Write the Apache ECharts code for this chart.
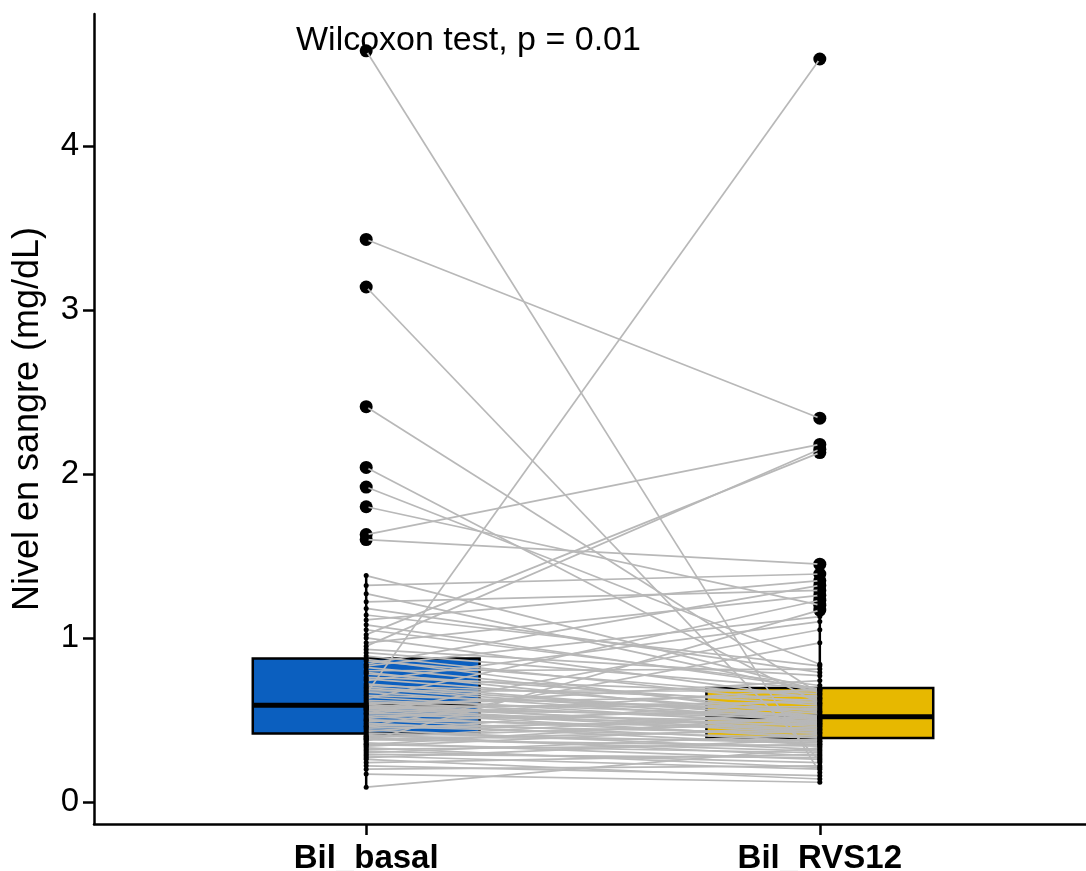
<!DOCTYPE html>
<html>
<head>
<meta charset="utf-8">
<script src="https://cdn.jsdelivr.net/npm/echarts@6/dist/echarts.min.js"></script>
<style>
  html, body { margin: 0; padding: 0; background: #ffffff; }
  #chart { width: 1086px; height: 871px; }
</style>
</head>
<body>
<div id="chart"></div>
<script>
// Paired bilirubin measurements: baseline vs. RVS week 12 (one entry per patient)
const categories = ['Bil_basal', 'Bil_RVS12'];
const yTicks = [0, 1, 2, 3, 4];
const testLabel = 'Wilcoxon test, p = 0.01';

const bilBasal = [
  4.58, 3.43, 3.14, 2.41, 2.04, 1.92, 1.80, 1.63, 1.60, 0.66, 0.95, 1.02,
  0.09, 0.17, 0.20, 0.22, 0.24, 0.26, 0.27, 0.28, 0.29, 0.30, 0.31, 0.32, 0.33,
  0.34, 0.35, 0.35, 0.36, 0.37, 0.38, 0.38, 0.39, 0.39, 0.40, 0.40, 0.41,
  0.42, 0.43, 0.44, 0.45, 0.46, 0.46, 0.47, 0.48, 0.49, 0.50, 0.50, 0.51, 0.52,
  0.53, 0.54, 0.54, 0.55, 0.56, 0.56, 0.57, 0.57, 0.58, 0.58, 0.58, 0.585,
  0.595, 0.60, 0.61, 0.62, 0.63, 0.64, 0.65, 0.67, 0.68, 0.69, 0.70, 0.71,
  0.72, 0.74, 0.75, 0.76, 0.78, 0.79, 0.80, 0.82, 0.83, 0.84, 0.86, 0.87,
  0.89, 0.91, 0.93, 0.97, 1.00, 1.05, 1.08, 1.11, 1.14, 1.18, 1.22, 1.27, 1.32, 1.38
];

const bilRVS12 = [
  0.18, 2.34, 0.25, 0.66, 0.60, 0.84, 1.20, 2.18, 1.45, 4.53, 2.15, 2.13,
  0.33, 0.12, 0.22, 0.16, 0.29, 0.14, 0.38, 0.20, 0.27, 0.41, 0.24, 0.35, 0.21,
  0.46, 0.30, 0.52, 0.26, 1.17, 0.34, 0.44, 0.31, 0.55, 0.37, 0.48, 0.28,
  0.36, 0.63, 0.32, 0.50, 0.39, 0.97, 0.42, 0.35, 0.57, 0.37, 0.45, 0.69, 0.40,
  0.47, 1.05, 0.49, 0.39, 0.53, 0.42, 0.61, 0.43, 0.51, 0.74, 0.46, 0.58,
  0.44, 0.65, 0.48, 0.52, 1.23, 0.47, 0.56, 0.49, 0.68, 0.50, 0.52, 0.62,
  0.51, 1.10, 0.54, 0.66, 0.59, 0.51, 0.81, 0.55, 1.13, 1.32, 0.64, 0.52,
  0.60, 0.69, 0.77, 1.26, 0.63, 0.71, 0.69, 1.35, 0.83, 0.79, 1.29, 0.67, 1.39, 0.68
];

const groupColors = ['#0B5FBF', '#E7B800'];
const FONT = '"Liberation Sans", Arial, Helvetica, sans-serif';

// Tukey box statistics (R quantile type 7, whiskers to the most extreme point within 1.5 IQR)
function quantile7(sorted, p) {
  const h = (sorted.length - 1) * p;
  const lo = Math.floor(h), hi = Math.ceil(h);
  return sorted[lo] + (h - lo) * (sorted[hi] - sorted[lo]);
}
function boxStats(values) {
  const s = values.slice().sort((a, b) => a - b);
  const q1 = quantile7(s, 0.25), med = quantile7(s, 0.5), q3 = quantile7(s, 0.75);
  const iqr = q3 - q1, lo = q1 - 1.5 * iqr, hi = q3 + 1.5 * iqr;
  const inside = s.filter(v => v >= lo && v <= hi);
  return {
    q1, med, q3,
    wLow: inside[0], wHigh: inside[inside.length - 1],
    outliers: s.filter(v => v < lo || v > hi)
  };
}

const groups = [bilBasal, bilRVS12];
const stats = groups.map(boxStats);

const boxData = stats.map((st, i) => [i + 1, st.wLow, st.q1, st.med, st.q3, st.wHigh, i]);
const outlierData = [];
stats.forEach((st, i) => st.outliers.forEach(v => outlierData.push([i + 1, v])));
const pointData = [];
groups.forEach((g, i) => g.forEach(v => pointData.push([i + 1, v])));
const pairLines = bilBasal.map((b, i) => ({ coords: [[1, b], [2, bilRVS12[i]]] }));

// y range padded by 5% of the data span on each side
const allVals = bilBasal.concat(bilRVS12);
const dMin = Math.min.apply(null, allVals), dMax = Math.max.apply(null, allVals);
const pad = (dMax - dMin) * 0.05;

const chart = echarts.init(document.getElementById('chart'), null, { renderer: 'canvas' });

chart.setOption({
  animation: false,
  backgroundColor: '#ffffff',
  grid: { left: 94, top: 14, width: 998, bottom: 47, containLabel: false, outerBoundsMode: 'none' },
  xAxis: {
    type: 'value',
    min: 0.4,
    max: 2.6,
    splitLine: { show: false },
    axisLine: { show: true, onZero: false, lineStyle: { color: '#000', width: 2.5 } },
    axisTick: { show: true, customValues: [1, 2], length: 11, lineStyle: { color: '#000', width: 2.5 } },
    axisLabel: {
      customValues: [1, 2],
      formatter: v => categories[Math.round(v) - 1],
      color: '#000', fontFamily: FONT, fontSize: 33, fontWeight: 'bold', margin: 18
    }
  },
  yAxis: {
    type: 'value',
    min: dMin - pad,
    max: dMax + pad,
    name: 'Nivel en sangre (mg/dL)',
    nameLocation: 'middle',
    nameGap: 48,
    nameTextStyle: { color: '#000', fontFamily: FONT, fontSize: 36 },
    splitLine: { show: false },
    axisLine: { show: true, onZero: false, lineStyle: { color: '#000', width: 2.5 } },
    axisTick: { show: true, customValues: yTicks, length: 11, lineStyle: { color: '#000', width: 2.5 } },
    axisLabel: {
      customValues: yTicks,
      color: '#000', fontFamily: FONT, fontSize: 33, margin: 15
    }
  },
  graphic: [{
    type: 'text',
    left: 296,
    top: 24,
    style: { text: testLabel, font: '34px ' + FONT, fill: '#000' }
  }],
  series: [
    {
      type: 'custom',
      z: 1,
      silent: true,
      clip: false,
      data: boxData,
      renderItem: function (params, api) {
        const x = api.value(0);
        const half = 0.25;
        const color = groupColors[api.value(6)];
        const lt = api.coord([x - half, api.value(4)]);
        const rb = api.coord([x + half, api.value(2)]);
        const mL = api.coord([x - half, api.value(3)]);
        const mR = api.coord([x + half, api.value(3)]);
        const wT = api.coord([x, api.value(5)]);
        const q3 = api.coord([x, api.value(4)]);
        const q1 = api.coord([x, api.value(2)]);
        const wB = api.coord([x, api.value(1)]);
        const lineStyle = { stroke: '#000', lineWidth: 2.5 };
        return {
          type: 'group',
          children: [
            { type: 'line', shape: { x1: wT[0], y1: wT[1], x2: q3[0], y2: q3[1] }, style: lineStyle },
            { type: 'line', shape: { x1: q1[0], y1: q1[1], x2: wB[0], y2: wB[1] }, style: lineStyle },
            { type: 'rect', shape: { x: lt[0], y: lt[1], width: rb[0] - lt[0], height: rb[1] - lt[1] },
              style: { fill: color, stroke: '#000', lineWidth: 2.5 } },
            { type: 'line', shape: { x1: mL[0], y1: mL[1], x2: mR[0], y2: mR[1] },
              style: { stroke: '#000', lineWidth: 5 } }
          ]
        };
      }
    },
    {
      type: 'scatter',
      z: 2,
      silent: true,
      symbol: 'circle',
      symbolSize: 13,
      itemStyle: { color: '#000', opacity: 1 },
      data: outlierData
    },
    {
      type: 'lines',
      coordinateSystem: 'cartesian2d',
      z: 3,
      silent: true,
      polyline: false,
      lineStyle: { color: '#B8B8B8', width: 1.7, opacity: 1, curveness: 0 },
      data: pairLines
    },
    {
      type: 'scatter',
      z: 4,
      silent: true,
      symbol: 'circle',
      symbolSize: 5,
      itemStyle: { color: '#000', opacity: 1 },
      data: pointData
    }
  ]
});
</script>
</body>
</html>
